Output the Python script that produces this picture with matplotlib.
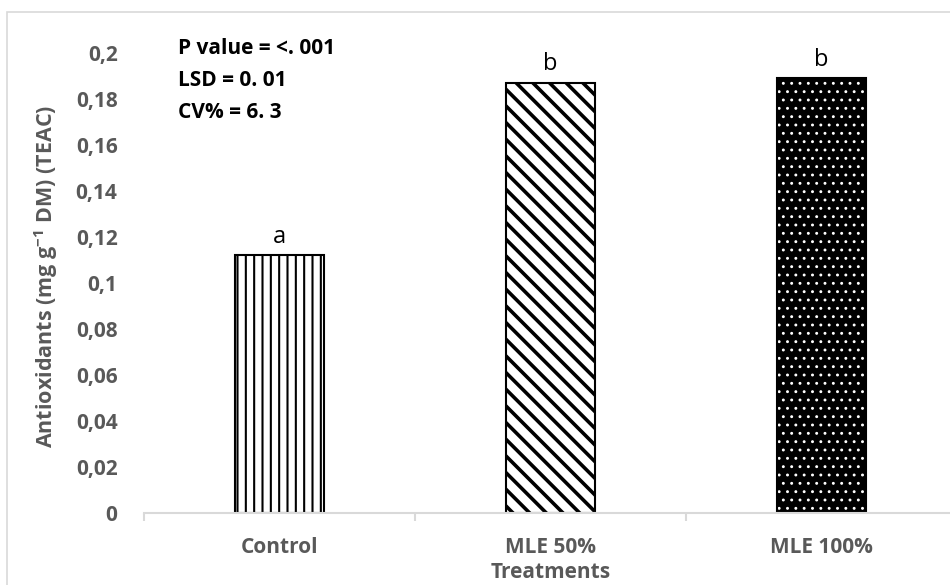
import numpy as np
import matplotlib
matplotlib.use("Agg")
import matplotlib.pyplot as plt
from matplotlib.patches import Rectangle

# data
treatments = ["Control", "MLE 50%", "MLE 100%"]
antioxidants = [0.112, 0.187, 0.189]
letters = ["a", "b", "b"]
stats_lines = ["P value = <. 001", "LSD = 0. 01", "CV% = 6. 3"]
yticks = [0, 0.02, 0.04, 0.06, 0.08, 0.1, 0.12, 0.14, 0.16, 0.18, 0.2]

GREY = "#595959"
LIGHT = "#d9d9d9"

plt.rcParams["font.family"] = ["Open Sans", "DejaVu Sans"]
plt.rcParams["mathtext.fontset"] = "custom"
plt.rcParams["mathtext.rm"] = "Open Sans:bold"
plt.rcParams["hatch.linewidth"] = 1.8

fig = plt.figure(figsize=(9.5, 5.85), dpi=100)
W, H = 950, 585
# plot area runs past the right edge, as in the original crop
ax = fig.add_axes([144 / W, 1 - 513 / H, 813 / W, 460 / H])

x = np.arange(len(treatments))
width = 0.325

b0 = ax.bar(x[0], antioxidants[0], width, color="white", edgecolor="black",
            linewidth=1.5, hatch="||")
b1 = ax.bar(x[1], antioxidants[1], width, color="white", edgecolor="black",
            linewidth=1.5, hatch="\\\\")
# black fill, white dots, then a black outline on top
b2 = ax.bar(x[2], antioxidants[2], width, color="black", edgecolor="white",
            linewidth=0, hatch="..")
ax.bar(x[2], antioxidants[2], width, color="none", edgecolor="black",
       linewidth=1.5)

for p, lw in [(b0[0], 1.5), (b1[0], 2.6), (b2[0], 0.9)]:
    if hasattr(p, "set_hatch_linewidth"):
        p.set_hatch_linewidth(lw)

for xi, v, lab in zip(x, antioxidants, letters):
    ax.annotate(lab, (xi, v), xytext=(0, 9), textcoords="offset points",
                ha="center", va="baseline", fontsize=17, color="black")

ax.set_xlim(-0.5, len(treatments) - 0.5)
ax.set_ylim(0, 0.2)
ax.set_yticks(yticks)
ax.set_yticklabels([("%g" % t).replace(".", ",") for t in yticks])
ax.set_xticks(x)
ax.set_xticklabels(treatments)
ax.set_xticks(np.arange(-0.5, len(treatments)), minor=True)

for s in ["top", "right", "left"]:
    ax.spines[s].set_visible(False)
ax.spines["bottom"].set_color(LIGHT)
ax.spines["bottom"].set_linewidth(1.5)

ax.tick_params(axis="y", length=0, pad=19, labelsize=15, labelcolor=GREY)
ax.tick_params(axis="x", which="major", length=0, pad=17, labelsize=15,
               labelcolor=GREY)
ax.tick_params(axis="x", which="minor", length=6, width=1.5, color=LIGHT)
for lbl in ax.get_xticklabels() + ax.get_yticklabels():
    lbl.set_fontweight("bold")

ax.set_ylabel(r"Antioxidants (mg g$^{-1}$ DM) (TEAC)", fontsize=15.5,
              fontweight="bold", color=GREY)
ax.yaxis.set_label_coords((46 - 144) / 813, (513 - 276) / 460)
ax.yaxis.label.set(va="center", ha="center")
ax.set_xlabel("Treatments", fontsize=15, fontweight="bold", color=GREY)
ax.xaxis.set_label_coords(0.5, (513 - 573) / 460)
ax.xaxis.label.set(va="center")

for i, line in enumerate(stats_lines):
    fig.text(178 / W, 1 - (48 + 32 * i) / H, line, fontsize=15,
             fontweight="bold", color="black", ha="left", va="center")

# outer chart border (right/bottom fall outside the crop)
fig.patches.append(Rectangle((7 / W, -0.05), 1.1, 1 - 12 / H + 0.05,
                             transform=fig.transFigure, fill=False,
                             edgecolor=LIGHT, linewidth=1.2))

fig.savefig("out.png", dpi=100)
